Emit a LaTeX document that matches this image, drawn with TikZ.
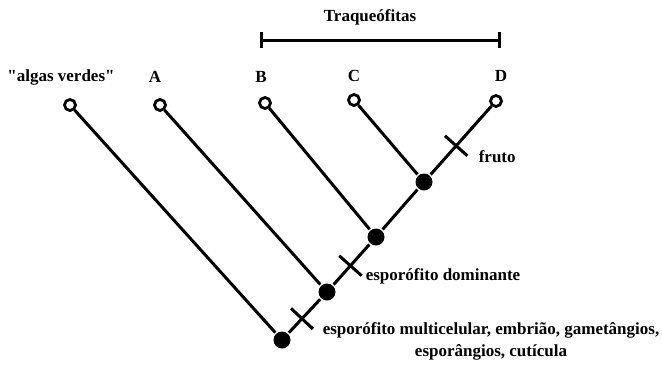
\documentclass[tikz,border=0pt]{standalone}
\usepackage{fontspec}
\setmainfont{Liberation Serif}
\newfontfamily\quotefont{Liberation Serif}
\usetikzlibrary{positioning,arrows.meta}

\begin{document}
\begin{tikzpicture}[x=1pt, y=-1pt, line width=3pt,
    every node/.style={font=\fontsize{17}{22}\selectfont\bfseries},
    tip/.style={circle, draw, fill=white, minimum size=11pt, inner sep=0pt, line width=2.8pt},
    split/.style={circle, fill=black, minimum size=17pt, inner sep=0pt},
    tick/.style={sloped, fill=black, minimum width=3pt, minimum height=30pt, inner sep=0pt}]

    \useasboundingbox (0,0) rectangle (662,365);

    % tips of the tree
    \node[tip] (algas) at (70,105) {};
    \node[tip] (a) at (160,105) {};
    \node[tip] (b) at (265,103) {};
    \node[tip] (c) at (354,100) {};
    \node[tip] (d) at (496,101) {};

    \node (algaslbl) at (61,77) {\quotefont"algas verdes"};
    \node (albl) at (155,77) {A};
    \node (blbl) at (261,77) {B};
    \node (clbl) at (354,76) {C};
    \node (dlbl) at (501,76) {D};

    % inner nodes
    \node[split] (root) at (282,340) {};
    \node[split] (n1) at (327,292) {};
    \node[split] (n2) at (376,237) {};
    \node[split] (n3) at (424,182) {};

    \draw (root) -- node[tick, pos=.42] {} (n1) -- node[tick, pos=.47] {} (n2) -- (n3) -- node[tick, pos=.42] {} (d);
    \draw (root) -- (algas);
    \draw (n1) -- (a);
    \draw (n2) -- (b);
    \draw (n3) -- (c);

    % characters
    \node[anchor=west] (fruto) at (474,157) {fruto};
    \node[anchor=west] (domin) at (361,276) {esporófito dominante};
    \node[align=center] (multi) at (491,341) {esporófito multicelular, embrião, gametângios,\\esporângios, cutícula};

    % Traqueofitas
    \coordinate (traqL) at (260,40);
    \coordinate (traqR) at (501,40);
    \draw[{Bar[width=16pt]}-{Bar[width=16pt]}] (traqL) -- (traqR);
    \node (traq) at (370,17) {Traqueófitas};

\end{tikzpicture}
\end{document}
